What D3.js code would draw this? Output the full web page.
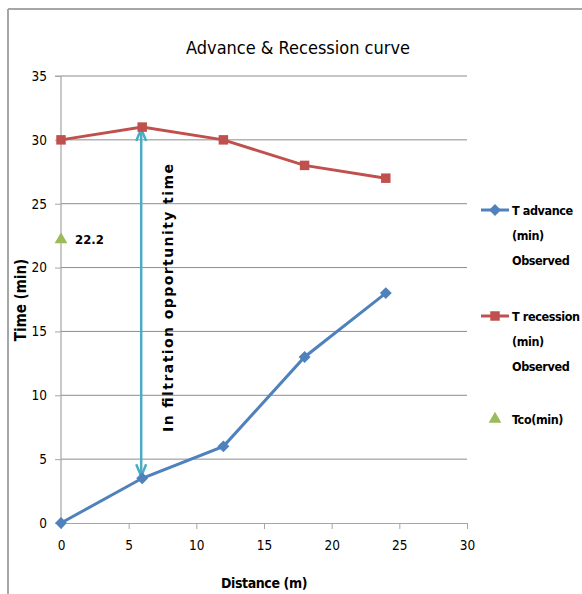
<!DOCTYPE html>
<html>
<head>
<meta charset="utf-8">
<script src="https://cdn.jsdelivr.net/npm/d3@7"></script>
<style>
  body { margin: 0; background: #fff; }
  svg text { font-family: "DejaVu Sans", sans-serif; font-stretch: condensed; }
</style>
</head>
<body>
<script>
// chart data
const distance = [0, 6, 12, 18, 24];
const tAdvance = [0, 3.5, 6, 13, 18];
const tRecession = [30, 31, 30, 28, 27];
const tcoDistance = [0];
const tcoValue = [22.2];
const xTicks = [0, 5, 10, 15, 20, 25, 30];
const yTicks = [0, 5, 10, 15, 20, 25, 30, 35];
const legendLabels = [
  ['T advance', '(min)', 'Observed'],
  ['T recession', '(min)', 'Observed'],
  ['Tco(min)']
];

const W = 582, H = 594;
const BLUE = '#4f81bd', RED = '#c0504d', GREEN = '#9bbb59', CYAN = '#4bacc6';

const svg = d3.select('body').append('svg')
    .attr('width', W)
    .attr('height', H);

// chart frame (top and left edges show)
svg.append('line').attr('x1', 8).attr('x2', W).attr('y1', 9).attr('y2', 9)
    .attr('stroke', '#a6a6a6').attr('stroke-width', 2);
svg.append('line').attr('x1', 8).attr('x2', 8).attr('y1', 9).attr('y2', H)
    .attr('stroke', '#a6a6a6').attr('stroke-width', 2);

const x = d3.scaleLinear().domain([0, 30]).range([61, 467]);
const y = d3.scaleLinear().domain([0, 35]).range([523, 76]);

// gridlines
svg.append('g')
  .selectAll('line')
  .data(yTicks.slice(1))
  .join('line')
    .attr('x1', x(0)).attr('x2', x(30))
    .attr('y1', d => y(d)).attr('y2', d => y(d))
    .attr('stroke', '#8c8c8c').attr('stroke-width', 1);

// y axis
const yAxis = svg.append('g')
    .attr('transform', `translate(${x(0)},0)`)
    .call(d3.axisLeft(y).tickValues(yTicks).tickSize(6).tickPadding(8));
// x axis
const xAxis = svg.append('g')
    .attr('transform', `translate(0,${y(0)})`)
    .call(d3.axisBottom(x).tickValues(xTicks).tickSize(6).tickPadding(11).tickSizeOuter(0));

[xAxis, yAxis].forEach(a => {
  a.select('.domain').attr('stroke', '#a6a6a6').attr('stroke-width', 1.2);
  a.selectAll('.tick line').attr('stroke', '#a6a6a6');
  a.selectAll('.tick text').attr('fill', '#000')
    .style('font-family', '"DejaVu Sans", sans-serif')
    .style('font-stretch', 'condensed')
    .style('font-size', '13.5px');
});
yAxis.select('.domain').attr('d', `M-6,${y(35)}H0V${y(0)}`);

// title and axis labels
svg.append('text')
    .attr('x', 298).attr('y', 54)
    .attr('text-anchor', 'middle')
    .attr('font-size', 18)
    .text('Advance & Recession curve');

svg.append('text')
    .attr('x', 264).attr('y', 588)
    .attr('text-anchor', 'middle')
    .attr('font-size', 14).attr('font-weight', 'bold')
    .attr('letter-spacing', -0.4)
    .text('Distance (m)');

svg.append('text')
    .attr('transform', 'translate(26,300) rotate(-90)')
    .attr('text-anchor', 'middle')
    .attr('font-size', 15).attr('font-weight', 'bold')
    .text('Time (min)');

// infiltration opportunity arrow
const arrowX = x(6) - 1;
const arrowTop = y(31) + 2, arrowBot = y(3.5) - 2;
svg.append('line')
    .attr('x1', arrowX).attr('x2', arrowX)
    .attr('y1', arrowTop + 2).attr('y2', arrowBot - 2)
    .attr('stroke', CYAN).attr('stroke-width', 2.5);
svg.append('path')
    .attr('d', `M${arrowX - 5},${arrowTop + 12}L${arrowX},${arrowTop}L${arrowX + 5},${arrowTop + 12}`)
    .attr('fill', 'none').attr('stroke', CYAN).attr('stroke-width', 2.5);
svg.append('path')
    .attr('d', `M${arrowX - 5},${arrowBot - 12}L${arrowX},${arrowBot}L${arrowX + 5},${arrowBot - 12}`)
    .attr('fill', 'none').attr('stroke', CYAN).attr('stroke-width', 2.5);

svg.append('text')
    .attr('transform', `translate(173,298) rotate(-90)`)
    .attr('text-anchor', 'middle')
    .attr('font-weight', 'bold')
    .attr('textLength', 268).attr('lengthAdjust', 'spacing')
    .style('font-stretch', 'normal')
    .style('font-size', '14px')
    .text('In filtration opportunity time');

// series lines
const line = d3.line().x(d => x(d[0])).y(d => y(d[1]));
const advPts = d3.zip(distance, tAdvance);
const recPts = d3.zip(distance, tRecession);

svg.append('path').datum(advPts).attr('d', line)
    .attr('fill', 'none').attr('stroke', BLUE).attr('stroke-width', 3);
svg.append('path').datum(recPts).attr('d', line)
    .attr('fill', 'none').attr('stroke', RED).attr('stroke-width', 3);

const diamond = d3.symbol().type(d3.symbolDiamond2).size(90);
const square = d3.symbol().type(d3.symbolSquare).size(90);
const triangle = d3.symbol().type(d3.symbolTriangle).size(70);

svg.append('g').selectAll('path').data(advPts).join('path')
    .attr('transform', d => `translate(${x(d[0])},${y(d[1])})`)
    .attr('d', diamond).attr('fill', BLUE);
svg.append('g').selectAll('path').data(recPts).join('path')
    .attr('transform', d => `translate(${x(d[0])},${y(d[1])})`)
    .attr('d', square).attr('fill', RED);

const tcoPts = d3.zip(tcoDistance, tcoValue);
svg.append('g').selectAll('path').data(tcoPts).join('path')
    .attr('transform', d => `translate(${x(d[0])},${y(d[1])})`)
    .attr('d', triangle).attr('fill', GREEN);
svg.append('g').selectAll('text').data(tcoPts).join('text')
    .attr('x', d => x(d[0]) + 14).attr('y', d => y(d[1]) + 5)
    .attr('font-size', 13).attr('font-weight', 'bold')
    .text(d => d[1]);

// legend
const legendRows = [210, 316, 419];
const legendColors = [BLUE, RED, GREEN];
const legendSymbols = [diamond, square, triangle];
const legend = svg.append('g');
legendLabels.forEach((lines, i) => {
  const ly = legendRows[i];
  if (i < 2) {
    legend.append('line')
        .attr('x1', 481).attr('x2', 509).attr('y1', ly).attr('y2', ly)
        .attr('stroke', legendColors[i]).attr('stroke-width', 3);
  }
  legend.append('path')
      .attr('transform', `translate(495,${ly})`)
      .attr('d', legendSymbols[i]).attr('fill', legendColors[i]);
  legend.append('text')
      .attr('x', 512).attr('y', ly + 5)
      .attr('font-size', 12.5).attr('font-weight', 'bold')
      .attr('letter-spacing', -0.4)
      .selectAll('tspan').data(lines).join('tspan')
        .attr('x', 512).attr('dy', (d, j) => j === 0 ? 0 : 25)
        .text(d => d);
});
</script>
</body>
</html>
